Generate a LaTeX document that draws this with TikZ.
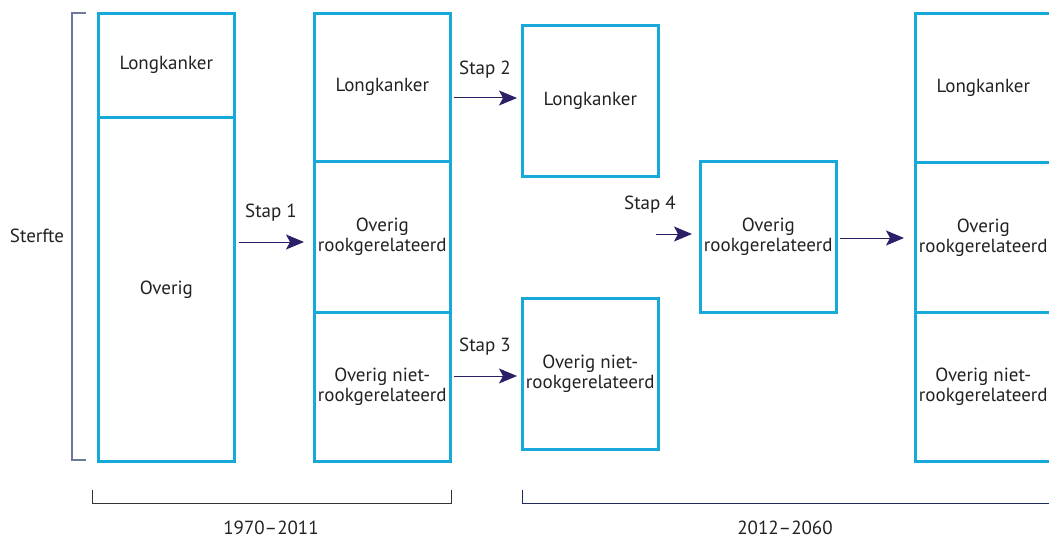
\documentclass[tikz,border=0pt]{standalone}
\usepackage{fontspec}
\setmainfont{PT Sans}
\usetikzlibrary{arrows.meta}
\definecolor{boxblue}{HTML}{17A9DA}
\definecolor{arrnavy}{HTML}{2B2068}
\definecolor{txt}{HTML}{222222}
\definecolor{brgray}{HTML}{6E789A}
\definecolor{brnavy}{HTML}{1C2A5C}
\tikzset{
  seg/.style={draw=boxblue, line width=2.6pt, rectangle, anchor=north west, minimum width=136pt, inner sep=0pt, align=center, text=txt, font=\fontsize{19}{20}\selectfont},
  arr/.style={draw=arrnavy, line width=1pt, -{Stealth[length=18pt,width=15pt,inset=4pt]}},
  lbl/.style={text=txt, font=\fontsize{19}{20}\selectfont, inner sep=0pt},
}
\begin{document}
\begin{tikzpicture}[x=1pt,y=-1pt]
\useasboundingbox (0,0) rectangle (1049,540);
\clip (0,0) rectangle (1049,540);
% left bracket
\draw[brgray, line width=1.2pt] (86,13) -- (72,13) -- (72,460) -- (86,460);
\node[lbl] (sterfte) at (37,236) {Sterfte};
% column 1
\node[seg, minimum height=104pt] (c1a) at (97,12) {Longkanker};
\node[seg, minimum height=344pt] (c1b) at (97,116) {Overig};
% column 2
\node[seg, minimum height=148pt] (c2a) at (313,12) {Longkanker};
\node[seg, minimum height=151pt] (c2b) at (313,160) {Overig\\rookgerelateerd};
\node[seg, minimum height=149pt] (c2c) at (313,311) {Overig niet-\\rookgerelateerd};
% column 3
\node[seg, minimum height=151pt] (d1) at (521,24) {Longkanker};
\node[seg, minimum height=151pt] (d2) at (521,297) {Overig niet-\\rookgerelateerd};
% column 4
\node[seg, minimum height=151pt] (e1) at (699,160) {Overig\\rookgerelateerd};
% column 5
\node[seg, minimum height=149pt] (f1) at (914,12) {Longkanker};
\node[seg, minimum height=150pt] (f2) at (914,161) {Overig\\rookgerelateerd};
\node[seg, minimum height=149pt] (f3) at (914,311) {Overig niet-\\rookgerelateerd};
% arrows
\draw[arr] ([xshift=3pt]c1b.east |- 0,242) -- ([xshift=-9pt]c2b.west |- 0,242);
\node[lbl] (s1) at (271,213) {Stap 1};
\draw[arr] ([xshift=2pt]c2a.east |- 0,98) -- ([xshift=-4pt]d1.west |- 0,98);
\node[lbl] (s2) at (485,70) {Stap 2};
\draw[arr] ([xshift=2pt]c2c.east |- 0,376) -- ([xshift=-4pt]d2.west |- 0,376);
\node[lbl] (s3) at (485,347) {Stap 3};
\coordinate (a4) at (656,234);
\draw[arr] (a4) -- ([xshift=-7pt]e1.west |- a4);
\node[lbl] (s4) at (650,205) {Stap 4};
\draw[arr] ([xshift=2pt]e1.east |- 0,238) -- ([xshift=-10pt]f2.west |- 0,238);
% bottom brackets
\draw[black!80, line width=1pt] (92,490) -- (92,503) -- (451,503) -- (451,490);
\node[lbl] (p1) at (271,528) {1970–2011};
\draw[brnavy, line width=1pt] (522,490) -- (522,503) -- (1060,503);
\node[lbl] (p2) at (785,528) {2012–2060};
\end{tikzpicture}
\end{document}
